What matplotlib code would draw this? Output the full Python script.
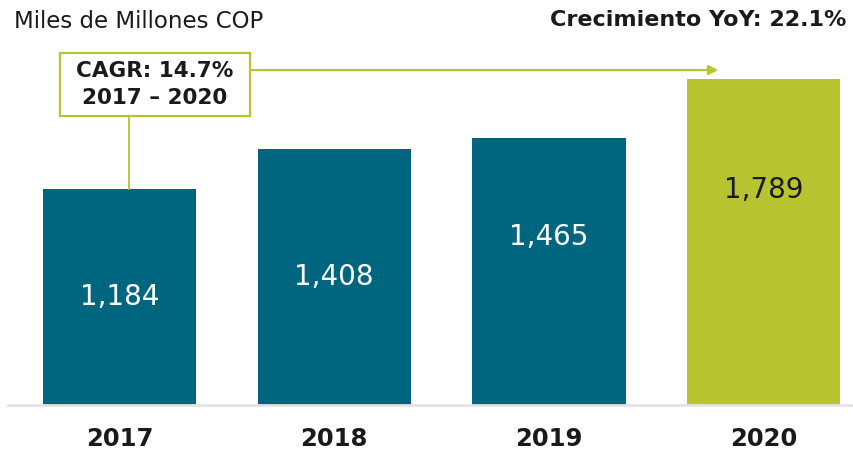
import matplotlib
matplotlib.use("Agg")
import matplotlib.pyplot as plt
from matplotlib.patches import Rectangle

years = ["2017", "2018", "2019", "2020"]
values = [1184, 1408, 1465, 1789]
value_labels = ["1,184", "1,408", "1,465", "1,789"]
unit_label = "Miles de Millones COP"
yoy_label = "Crecimiento YoY: 22.1%"
cagr_label = "CAGR: 14.7%\n2017 – 2020"

TEAL = "#006680"
GREEN = "#b8c42f"
label_frac = [0.5, 0.5, 0.63, 0.66]

W, H = 854, 455
fig = plt.figure(figsize=(W / 100, H / 100), dpi=100)
ax = fig.add_axes([8 / W, 50 / H, 846 / W, 385 / H])

x = list(range(len(years)))
colors = [TEAL, TEAL, TEAL, GREEN]
ax.bar(x, values, width=0.713, color=colors, zorder=2)
ax.set_xlim(-0.519, 3.42)
ax.set_ylim(0, 2114)

for i, (v, lab) in enumerate(zip(values, value_labels)):
    tc = "white" if i < 3 else "#1a1a1a"
    ax.text(i, v * label_frac[i], lab, ha="center", va="center",
            fontsize=20, color=tc, family="DejaVu Sans")

for s in ["top", "right", "left"]:
    ax.spines[s].set_visible(False)
ax.spines["bottom"].set_color("#e3e3e3")
ax.spines["bottom"].set_linewidth(2)
ax.set_yticks([])
ax.set_xticks(x)
ax.set_xticklabels(years, fontsize=17.5, fontweight="bold", color="#1a1a1a")
ax.tick_params(axis="x", length=0, pad=15.5)

# CAGR box
bx0, bx1 = -0.277, 0.608
by0, by1 = 1587, 1932
ax.add_patch(Rectangle((bx0, by0), bx1 - bx0, by1 - by0, facecolor="white",
                       edgecolor=GREEN, linewidth=1.6, zorder=3))
ax.text((bx0 + bx1) / 2, (by0 + by1) / 2, cagr_label, ha="center", va="center",
        fontsize=15.5, fontweight="bold", color="#1a1a1a", linespacing=1.4, zorder=4)
ax.plot([0.045, 0.045], [values[0], by0], color=GREEN, lw=1.3, zorder=3)
ax.annotate("", xy=(2.788, 1839), xytext=(bx1, 1839),
            arrowprops=dict(arrowstyle="-|>", color=GREEN, lw=1.6,
                            mutation_scale=14, shrinkA=0, shrinkB=0), zorder=3)

fig.text(14 / W, 1 - 22 / H, unit_label, ha="left", va="center",
         fontsize=16.5, color="#1a1a1a")
fig.text(846 / W, 1 - 20 / H, yoy_label, ha="right", va="center",
         fontsize=16, fontweight="bold", color="#1a1a1a")

fig.savefig("out.png", dpi=100)
